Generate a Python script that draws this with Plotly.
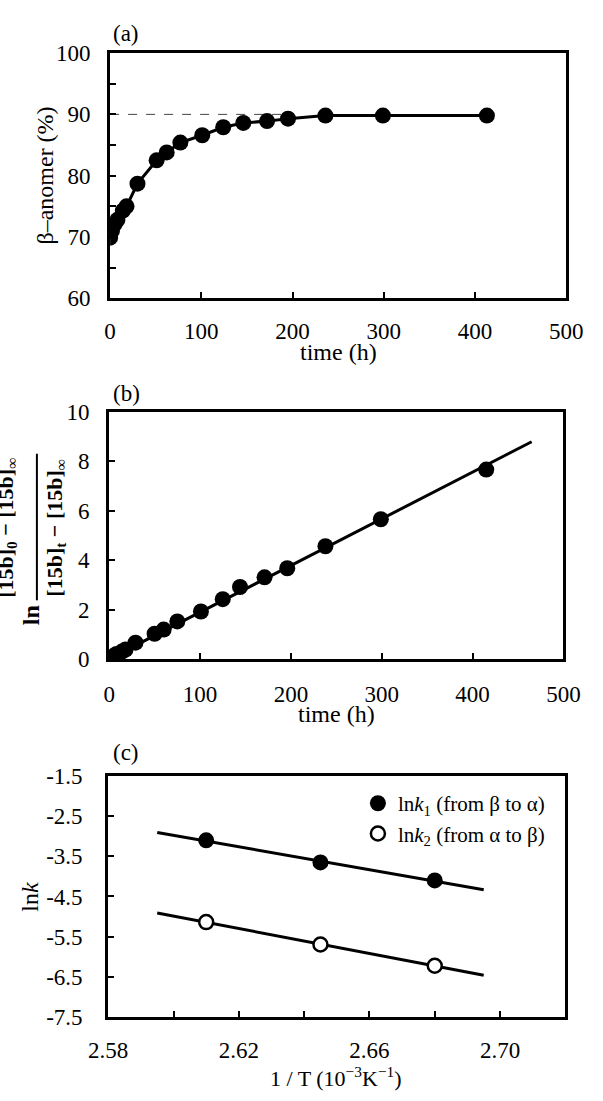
import numpy as np
import plotly.graph_objects as go

# ---------------- data ----------------
# panel (a)
time_a = [0, 2, 5, 8, 14, 18, 30, 51, 62, 77, 101, 124, 146, 172, 195, 236, 299, 413]
beta_pct = [69.9, 71.0, 72.1, 72.8, 74.3, 75.0, 78.7, 82.5, 83.8, 85.4, 86.6, 87.9,
            88.6, 88.9, 89.3, 89.8, 89.8, 89.8]
plateau_pct = 90
plateau_end_h = 200

# panel (b)
time_b = [0, 2, 5, 8, 14, 18, 29, 50, 60, 75, 101, 125, 144, 171, 196, 238, 299, 415]
ln_ratio = [0, 0.06, 0.12, 0.2, 0.3, 0.38, 0.66, 1.02, 1.19, 1.52, 1.92, 2.42, 2.91,
            3.30, 3.67, 4.56, 5.65, 7.66]
fit_b_tmax = 465

# panel (c)
inv_T = [2.61, 2.645, 2.68]
lnk1 = [-3.10, -3.65, -4.10]
lnk2 = [-5.14, -5.70, -6.23]
fit_c_range = [2.595, 2.695]

ticks_c_y = [-7.5, -6.5, -5.5, -4.5, -3.5, -2.5, -1.5]
ticks_c_y_text = ["-7.5", "-6.5", "-5.5", "-4.5", "-3.5", "-2.5", "-1.5"]
ticks_c_x = [2.58, 2.62, 2.66, 2.70]
ticks_c_x_text = ["2.58", "2.62", "2.66", "2.70"]

# ---------------- figure ----------------
W, H = 603, 1101
FONT = "Liberation Serif"
BLACK = "black"
TICK = 23
TITLE = 24


def px_x(x):
    return x / W


def px_y(y):
    return 1 - y / H


fig = go.Figure()

# panel (a)
fig.add_trace(go.Scatter(x=time_a, y=beta_pct, mode="lines+markers",
                         line=dict(color=BLACK, width=3),
                         marker=dict(color=BLACK, size=16),
                         xaxis="x", yaxis="y", showlegend=False))

# panel (b)
tb = np.array(time_b, dtype=float)
vb = np.array(ln_ratio, dtype=float)
slope_b = float((tb * vb).sum() / (tb * tb).sum())
fit_t = np.array([0, fit_b_tmax], dtype=float)
fig.add_trace(go.Scatter(x=fit_t, y=slope_b * fit_t, mode="lines",
                         line=dict(color=BLACK, width=3),
                         xaxis="x2", yaxis="y2", showlegend=False))
fig.add_trace(go.Scatter(x=time_b, y=ln_ratio, mode="markers",
                         marker=dict(color=BLACK, size=16),
                         xaxis="x2", yaxis="y2", showlegend=False))

# panel (c)
xc = np.array(fit_c_range)
p1 = np.polyfit(inv_T, lnk1, 1)
p2 = np.polyfit(inv_T, lnk2, 1)
fig.add_trace(go.Scatter(x=xc, y=np.polyval(p1, xc), mode="lines",
                         line=dict(color=BLACK, width=3),
                         xaxis="x3", yaxis="y3", showlegend=False))
fig.add_trace(go.Scatter(x=xc, y=np.polyval(p2, xc), mode="lines",
                         line=dict(color=BLACK, width=3),
                         xaxis="x3", yaxis="y3", showlegend=False))
fig.add_trace(go.Scatter(x=inv_T, y=lnk1, mode="markers",
                         marker=dict(color=BLACK, size=16),
                         name="ln<i>k</i><sub>1</sub> (from β to α)",
                         xaxis="x3", yaxis="y3"))
fig.add_trace(go.Scatter(x=inv_T, y=lnk2, mode="markers",
                         marker=dict(color="white", size=14,
                                     line=dict(color=BLACK, width=2.5)),
                         name="ln<i>k</i><sub>2</sub> (from α to β)",
                         xaxis="x3", yaxis="y3"))

# plateau dashed line (panel a)
fig.add_shape(type="line", xref="x", yref="y", x0=0, x1=plateau_end_h,
              y0=plateau_pct, y1=plateau_pct,
              line=dict(color="#444", width=1, dash="dash"), layer="below")

tickfont = dict(family=FONT, size=TICK, color=BLACK)
common = dict(showline=True, linecolor=BLACK, linewidth=3, mirror=True,
              ticks="inside", tickcolor=BLACK, tickwidth=2, ticklen=6,
              showgrid=False, zeroline=False, tickfont=tickfont)

fig.update_layout(
    width=W, height=H, margin=dict(l=0, r=0, t=0, b=0),
    paper_bgcolor="white", plot_bgcolor="white",
    font=dict(family=FONT, color=BLACK, size=TICK),
    xaxis=dict(domain=[px_x(96), px_x(582)], range=[0, 500], dtick=100,
               anchor="y", ticklabelstandoff=10, **common),
    yaxis=dict(domain=[px_y(293), px_y(42)], range=[60, 100], dtick=10,
               anchor="x", ticklabelstandoff=12,
               minor=dict(dtick=5, ticks="inside", ticklen=6, tickwidth=2,
                          tickcolor=BLACK, showgrid=False), **common),
    xaxis2=dict(domain=[px_x(95), px_x(579)], range=[0, 500], dtick=100,
                anchor="y2", ticklabelstandoff=12, **common),
    yaxis2=dict(domain=[px_y(662), px_y(409)], range=[0, 10], dtick=2,
                anchor="x2", ticklabelstandoff=12, **common),
    xaxis3=dict(domain=[px_x(94), px_x(581)], range=[2.58, 2.72],
                tickvals=ticks_c_x, ticktext=ticks_c_x_text,
                anchor="y3", ticklabelstandoff=11,
                minor=dict(dtick=0.02, tick0=2.58, ticks="inside", ticklen=6,
                           tickwidth=2, tickcolor=BLACK, showgrid=False),
                **common),
    yaxis3=dict(domain=[px_y(1028), px_y(782)], range=[-7.5, -1.5],
                tickvals=ticks_c_y, ticktext=ticks_c_y_text,
                anchor="x3", ticklabelstandoff=18, **common),
    legend=dict(x=px_x(360), y=px_y(789), xanchor="left", yanchor="top",
                font=dict(family=FONT, size=21, color=BLACK),
                bgcolor="rgba(0,0,0,0)", itemwidth=30, tracegroupgap=0),
)


def ann(text, x, y, size=TITLE, angle=0):
    fig.add_annotation(text=text, x=px_x(x), y=px_y(y), xref="paper", yref="paper",
                       showarrow=False, textangle=angle,
                       font=dict(family=FONT, size=size, color=BLACK),
                       xanchor="center", yanchor="middle")


# panel labels
ann("(a)", 113, 22, size=23)
ann("(b)", 113, 390, size=23)
ann("(c)", 113, 758, size=23)

# panel (a) titles
ann("time (h)", 339, 348)
ann("β–anomer (%)", 27, 167, angle=-90)

# panel (b) titles
ann("time (h)", 337, 718)
ann("<b>ln</b>", 12, 617, size=24, angle=-90)
ann("<b>[15b]<sub>t</sub> − [15b]<sub>∞</sub></b>", 38, 528, size=22, angle=-90)
ann("<b>[15b]<sub>0</sub> − [15b]<sub>∞</sub></b>", -14, 528, size=22, angle=-90)
fig.add_shape(type="line", xref="paper", yref="paper",
              x0=px_x(18), x1=px_x(18), y0=px_y(452), y1=px_y(602),
              line=dict(color=BLACK, width=2))

# panel (c) titles
ann("1 / T (10<sup>−3</sup>K<sup>−1</sup>)", 337, 1090, size=22)
ann("ln<i>k</i>", 11, 905, angle=-90)

fig.write_html("out.html",
               config={"displayModeBar": False},
               post_script="document.body.style.margin='0px';"
                           "document.body.style.overflow='hidden';")
